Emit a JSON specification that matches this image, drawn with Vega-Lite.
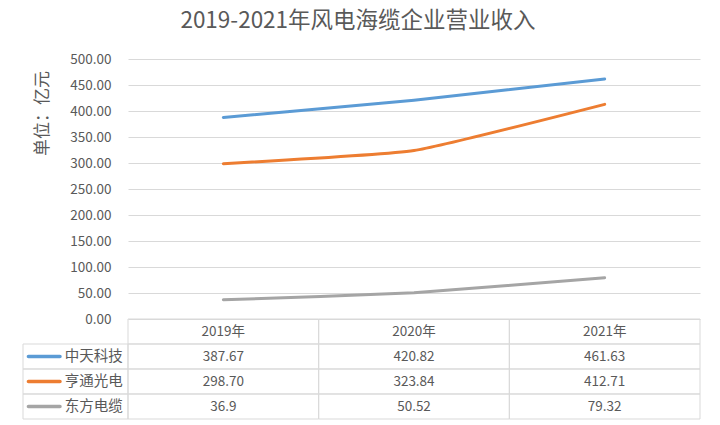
{
  "$schema": "https://vega.github.io/schema/vega-lite/v6.json",
  "width": 572,
  "height": 360,
  "autosize": {"type": "none"},
  "padding": {"left": 128, "top": 59, "right": 20, "bottom": 6},
  "background": "white",
  "config": {"view": {"stroke": null}, "font": "Noto Sans CJK SC"},
  "title": {"text": "2019-2021年风电海缆企业营业收入", "fontSize": 22.5, "fontWeight": "normal", "color": "#595959", "font": "Noto Sans CJK SC", "anchor": "middle", "dx": -56, "offset": 20},
  "datasets": {
    "sales": [
      {"company": "中天科技", "year": "2019年", "value": 387.67, "label": "387.67"},
      {"company": "中天科技", "year": "2020年", "value": 420.82, "label": "420.82"},
      {"company": "中天科技", "year": "2021年", "value": 461.63, "label": "461.63"},
      {"company": "亨通光电", "year": "2019年", "value": 298.70, "label": "298.70"},
      {"company": "亨通光电", "year": "2020年", "value": 323.84, "label": "323.84"},
      {"company": "亨通光电", "year": "2021年", "value": 412.71, "label": "412.71"},
      {"company": "东方电缆", "year": "2019年", "value": 36.9, "label": "36.9"},
      {"company": "东方电缆", "year": "2020年", "value": 50.52, "label": "50.52"},
      {"company": "东方电缆", "year": "2021年", "value": 79.32, "label": "79.32"}
    ]
  },
  "data": {"name": "sales"},
  "layer": [
    {
      "mark": {"type": "line", "interpolate": "cardinal", "tension": 0.6, "strokeWidth": 3, "strokeCap": "round"},
      "encoding": {
        "x": {"field": "year", "type": "nominal", "scale": {"type": "band", "domain": ["2019年", "2020年", "2021年"], "paddingInner": 0, "paddingOuter": 0}, "axis": null},
        "y": {"field": "value", "type": "quantitative", "scale": {"domain": [0, 500], "range": [260, 0], "nice": false},
          "axis": {"values": [0, 50, 100, 150, 200, 250, 300, 350, 400, 450, 500], "format": ".2f", "domain": false, "ticks": false, "labelPadding": 17, "labelFontSize": 13.5, "labelColor": "#595959", "labelFont": "Noto Sans CJK SC", "gridColor": "#d9d9d9", "gridWidth": 1,
            "title": "单位：亿元", "titleFontSize": 17, "titleFontWeight": "normal", "titleColor": "#595959", "titleFont": "Noto Sans CJK SC", "titleAngle": -90, "titleX": -86, "titleY": 54, "titleAlign": "center", "titleBaseline": "middle"}},
        "color": {"field": "company", "type": "nominal", "scale": {"domain": ["中天科技", "亨通光电", "东方电缆"], "range": ["#5B9BD5", "#ED7D31", "#A5A5A5"]}, "legend": null}
      }
    },
    {
      "mark": {"type": "rect", "fill": "transparent", "stroke": "#d9d9d9", "strokeWidth": 1},
      "encoding": {
        "x": {"field": "year", "type": "nominal", "scale": {"type": "band", "domain": ["2019年", "2020年", "2021年"], "paddingInner": 0, "paddingOuter": 0}, "axis": null},
        "y": {"field": "company", "type": "nominal", "scale": {"type": "band", "domain": ["header", "中天科技", "亨通光电", "东方电缆"], "range": [260, 360], "paddingInner": 0, "paddingOuter": 0}, "axis": null}
      }
    },
    {
      "transform": [{"filter": {"field": "company", "equal": "中天科技"}}],
      "mark": {"type": "rect", "fill": "transparent", "stroke": "#d9d9d9", "strokeWidth": 1},
      "encoding": {
        "x": {"field": "year", "type": "nominal", "scale": {"type": "band", "domain": ["2019年", "2020年", "2021年"], "paddingInner": 0, "paddingOuter": 0}, "axis": null},
        "y": {"datum": "header", "type": "nominal", "scale": {"type": "band", "domain": ["header", "中天科技", "亨通光电", "东方电缆"], "range": [260, 360], "paddingInner": 0, "paddingOuter": 0}, "axis": null}
      }
    },
    {
      "transform": [{"filter": {"field": "company", "equal": "中天科技"}}],
      "mark": {"type": "text", "fontSize": 13.5, "color": "#595959", "font": "Noto Sans CJK SC", "baseline": "middle", "align": "center"},
      "encoding": {
        "x": {"field": "year", "type": "nominal", "scale": {"type": "band", "domain": ["2019年", "2020年", "2021年"], "paddingInner": 0, "paddingOuter": 0}, "axis": null},
        "y": {"datum": "header", "type": "nominal", "scale": {"type": "band", "domain": ["header", "中天科技", "亨通光电", "东方电缆"], "range": [260, 360], "paddingInner": 0, "paddingOuter": 0}, "axis": null},
        "text": {"field": "year"}
      }
    },
    {
      "mark": {"type": "text", "fontSize": 13.5, "color": "#595959", "font": "Noto Sans CJK SC", "baseline": "middle", "align": "center"},
      "encoding": {
        "x": {"field": "year", "type": "nominal", "scale": {"type": "band", "domain": ["2019年", "2020年", "2021年"], "paddingInner": 0, "paddingOuter": 0}, "axis": null},
        "y": {"field": "company", "type": "nominal", "scale": {"type": "band", "domain": ["header", "中天科技", "亨通光电", "东方电缆"], "range": [260, 360], "paddingInner": 0, "paddingOuter": 0}, "axis": null},
        "text": {"field": "label"}
      }
    },
    {
      "transform": [{"filter": {"field": "year", "equal": "2019年"}}],
      "mark": {"type": "rect", "fill": "transparent", "stroke": "#d9d9d9", "strokeWidth": 1},
      "encoding": {
        "x": {"datum": "legend", "type": "nominal", "scale": {"type": "band", "domain": ["legend"], "range": [-105, 0], "paddingInner": 0, "paddingOuter": 0}, "axis": null},
        "y": {"field": "company", "type": "nominal", "scale": {"type": "band", "domain": ["header", "中天科技", "亨通光电", "东方电缆"], "range": [260, 360], "paddingInner": 0, "paddingOuter": 0}, "axis": null}
      }
    },
    {
      "transform": [{"filter": {"field": "year", "equal": "2019年"}}],
      "mark": {"type": "tick", "orient": "horizontal", "size": 35, "thickness": 3.5, "xOffset": -31.3, "cornerRadius": 1.75, "opacity": 1},
      "encoding": {
        "x": {"datum": "legend", "type": "nominal", "scale": {"type": "band", "domain": ["legend"], "range": [-105, 0], "paddingInner": 0, "paddingOuter": 0}, "axis": null},
        "y": {"field": "company", "type": "nominal", "scale": {"type": "band", "domain": ["header", "中天科技", "亨通光电", "东方电缆"], "range": [260, 360], "paddingInner": 0, "paddingOuter": 0}, "axis": null},
        "color": {"field": "company", "type": "nominal", "scale": {"domain": ["中天科技", "亨通光电", "东方电缆"], "range": ["#5B9BD5", "#ED7D31", "#A5A5A5"]}, "legend": null}
      }
    },
    {
      "transform": [{"filter": {"field": "year", "equal": "2019年"}}],
      "mark": {"type": "text", "fontSize": 14.5, "color": "#595959", "font": "Noto Sans CJK SC", "baseline": "middle", "align": "left", "dx": -10.8},
      "encoding": {
        "x": {"datum": "legend", "type": "nominal", "scale": {"type": "band", "domain": ["legend"], "range": [-105, 0], "paddingInner": 0, "paddingOuter": 0}, "axis": null},
        "y": {"field": "company", "type": "nominal", "scale": {"type": "band", "domain": ["header", "中天科技", "亨通光电", "东方电缆"], "range": [260, 360], "paddingInner": 0, "paddingOuter": 0}, "axis": null},
        "text": {"field": "company"}
      }
    }
  ],
  "resolve": {"scale": {"x": "independent", "y": "independent"}}
}
